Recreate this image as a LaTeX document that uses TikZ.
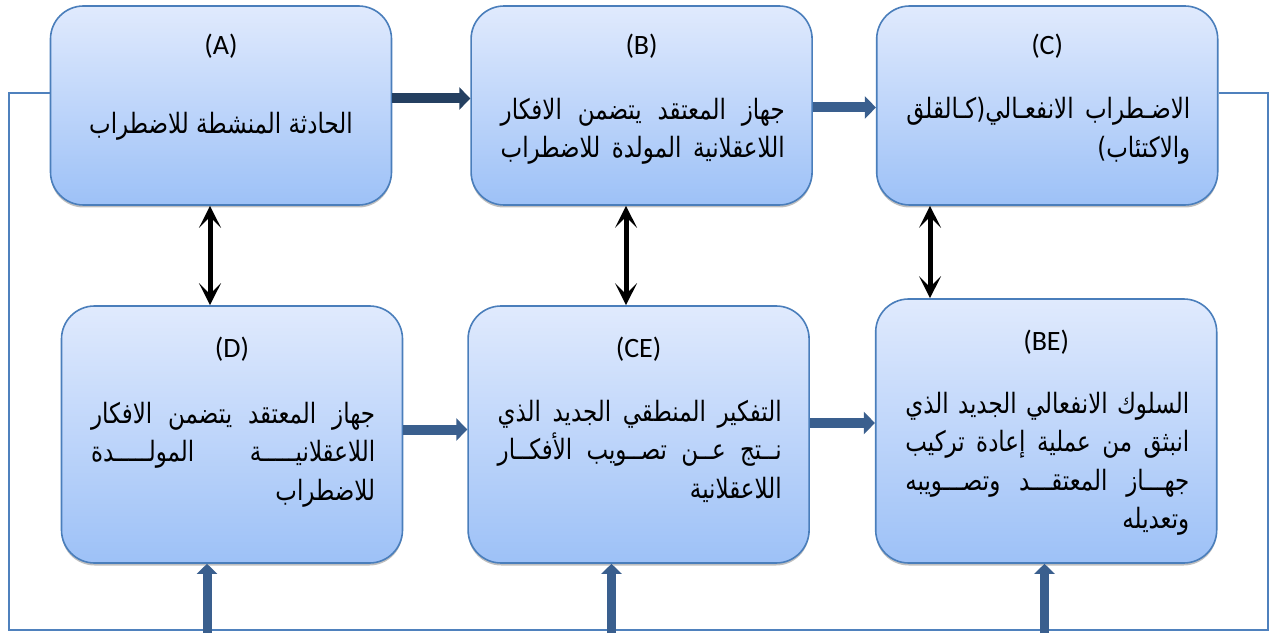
\documentclass[tikz,border=0pt]{standalone}
\usepackage{fontspec}
\setmainfont{Carlito}
\newfontfamily\arabicfont[Script=Arabic,FakeStretch=0.82]{DejaVu Sans}
\TeXXeTstate=1
\usetikzlibrary{arrows,arrows.meta,positioning,shadows}
\definecolor{boxline}{RGB}{74,126,187}
\definecolor{boxtop}{RGB}{224,234,253}
\definecolor{boxbot}{RGB}{157,193,247}
\definecolor{navy}{RGB}{36,63,96}
\definecolor{arrowblue}{RGB}{58,95,142}
\definecolor{framecol}{RGB}{79,129,189}
\newcommand{\arline}[1]{\hbox to 284pt{\spaceskip=.15em plus 1fil\beginR #1\endR}}
\newcommand{\arlast}[1]{\hbox to 284pt{\hfill\beginR #1\endR}}

\begin{document}
\begin{tikzpicture}[x=1pt,y=1pt,
box/.style={draw=boxline,line width=1.6pt,rounded corners=33pt,top color=boxtop,bottom color=boxbot,
  drop shadow={shadow xshift=0pt,shadow yshift=-2.5pt,fill=black!50},
  minimum width=341pt,minimum height=199pt,inner sep=0pt},
tag/.style={font=\fontsize{28}{32}\selectfont,inner sep=0pt},
txt/.style={font=\arabicfont\fontsize{28}{38.5}\selectfont,align=right,inner sep=0pt,anchor=east},
fat/.style={line width=10pt,-{Triangle[length=11pt,width=22pt]}},
upfat/.style={line width=9pt,arrowblue,-{Triangle[length=10pt,width=20pt]}},
dbl/.style={line width=5pt,{Stealth[length=22pt,width=22pt,inset=11pt]}-{Stealth[length=22pt,width=22pt,inset=11pt]}},
frame/.style={draw=framecol,line width=1.5pt}
]
\useasboundingbox (0,0) rectangle (1274,633);

% top row
\node[box] (bA) at (221,527.5) {};
\node[box, right=78pt of bA] (bB) {};
\node[box, right=63pt of bB] (bC) {};
% bottom row
\node[box, minimum height=257pt] (bD) at (232,198.5) {};
\node[box, minimum height=257pt, right=64pt of bD] (bCE) {};
\node[box, minimum height=264pt, right=65pt of bCE, yshift=3.5pt] (bBE) {};

\node[tag] (tA) at ([yshift=-41pt]bA.north) {(A)};
\node[tag] (tB) at ([yshift=-41pt]bB.north) {(B)};
\node[tag] (tC) at ([yshift=-41pt]bC.north) {(C)};
\node[tag] (tD) at ([yshift=-44pt]bD.north) {(D)};
\node[tag] (tCE) at ([yshift=-44pt]bCE.north) {(CE)};
\node[tag] (tBE) at ([yshift=-44pt]bBE.north) {(BE)};

\node[txt, anchor=center] (xA) at ([yshift=-20.5pt]bA.center) {\beginR الحادثة المنشطة للاضطراب\endR};
\node[txt] (xB) at ([xshift=-28pt,yshift=-26pt]bB.east)
  {\arline{جهاز المعتقد يتضمن الافكار}\\\arline{اللاعقلانية المولدة للاضطراب}};
\node[txt] (xC) at ([xshift=-28pt,yshift=-25.5pt]bC.east)
  {\arline{الاضـطراب الانفعـالي(كـالقلق}\\\arlast{والاكتئاب)}};
\node[txt] (xD) at ([xshift=-28pt,yshift=-20pt]bD.east)
  {\arline{جهاز المعتقد يتضمن الافكار}\\\arline{اللاعقلانيـــــة المولـــــدة}\\\arlast{للاضطراب}};
\node[txt] (xCE) at ([xshift=-28pt,yshift=-16.5pt]bCE.east)
  {\arline{التفكير المنطقي الجديد الذي}\\\arline{نــتج عــن تصــويب الأفكــار}\\\arlast{اللاعقلانية}};
\node[txt] (xBE) at ([xshift=-28pt,yshift=-33pt]bBE.east)
  {\arline{السلوك الانفعالي الجديد الذي}\\\arline{انبثق من عملية إعادة تركيب}\\\arline{جهـــاز المعتقـــد وتصـــويبه}\\\arlast{وتعديله}};

% feedback frame
\coordinate (jT) at (0,540);
\coordinate (fL) at (9,3);
\coordinate (fR) at (1268,3);
\draw[frame] (bA.west |- jT) -| (fL) -- (fR) |- (bC.east |- jT);

% horizontal arrows
\coordinate (hAB) at (0,534.5);
\coordinate (hBC) at (0,525.5);
\coordinate (hDC) at (0,203.5);
\coordinate (hCB) at (0,210);
\draw[fat,navy] (bA.east |- hAB) -- (bB.west |- hAB);
\draw[fat,arrowblue] (bB.east |- hBC) -- (bC.west |- hBC);
\draw[fat,arrowblue] (bD.east |- hDC) -- (bCE.west |- hDC);
\draw[fat,arrowblue] (bCE.east |- hCB) -- (bBE.west |- hCB);

% double arrows
\coordinate (vAD) at (210,0);
\coordinate (vBC) at (626,0);
\coordinate (vCB) at (930,0);
\draw[dbl] (bA.south -| vAD) -- (bD.north -| vAD);
\draw[dbl] (bB.south -| vBC) -- (bCE.north -| vBC);
\draw[dbl] (bC.south -| vCB) -- (bBE.north -| vCB);

% arrows from the frame
\foreach \b/\x in {bD/207,bCE/611.5,bBE/1044.5}{
  \coordinate (u\b) at (\x,0);
  \draw[upfat] (u\b) -- (\b.south -| u\b);
}
\end{tikzpicture}
\end{document}
